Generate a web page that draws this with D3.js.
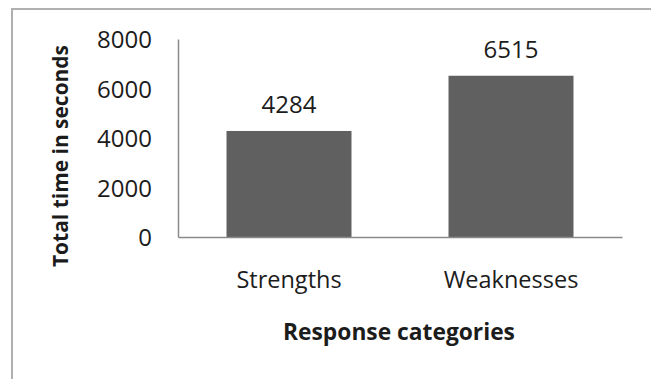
<!DOCTYPE html>
<html>
<head>
<meta charset="utf-8">
<script src="https://cdnjs.cloudflare.com/ajax/libs/d3/7.8.5/d3.min.js"></script>
<style>
  body { margin: 0; background: #fff; }
  svg { display: block; }
</style>
</head>
<body>
<svg id="grafico" width="651" height="379"></svg>
<script>
const categorias = ['Strengths', 'Weaknesses'];
const valores = [4284, 6515];
const ticksY = [0, 2000, 4000, 6000, 8000];

const fuente = "'Open Sans', 'Noto Sans', sans-serif";
const colorBarra = '#5f605f';
const colorEje = '#8a8a8a';
const colorTexto = '#1c1c1c';

let svg = d3.select('#grafico');

// marco gris (solo se ven arriba y a la izquierda)
svg.append('rect')
    .attr('x', 12).attr('y', 9)
    .attr('width', 700).attr('height', 420)
    .attr('fill', 'none')
    .attr('stroke', '#b0b0b0')
    .attr('stroke-width', 2);

const izq = 178, der = 622, arriba = 39, abajo = 237;

let escalaX = d3.scaleBand().domain(categorias).range([izq, der])
    .paddingInner(0.437).paddingOuter(0.2185);
let escalaY = d3.scaleLinear().domain([0, 8000]).range([abajo, arriba]);

// ajusta el tamaño de letra para que el texto mida lo que mide en la imagen
function ajustar(sel, ancho) {
    const largo = sel.node().getComputedTextLength();
    const fs = parseFloat(sel.style('font-size'));
    sel.style('font-size', (fs * ancho / largo).toFixed(2) + 'px');
}

// barras
svg.append('g').attr('id', 'barras')
    .selectAll('rect')
    .data(valores).enter()
    .append('rect')
    .attr('x', (d, i) => escalaX(categorias[i]))
    .attr('y', d => escalaY(d))
    .attr('width', escalaX.bandwidth())
    .attr('height', d => escalaY(0) - escalaY(d))
    .attr('fill', colorBarra);

// eje Y
let ejeY = svg.append('g')
    .attr('transform', 'translate(' + izq + ',0)')
    .call(d3.axisLeft(escalaY).tickValues(ticksY).tickFormat(d3.format('d'))
        .tickSize(0).tickPadding(26));
ejeY.select('.domain').attr('stroke', colorEje).attr('stroke-width', 1.5);
ejeY.selectAll('text')
    .attr('dy', '0.36em')
    .style('font-family', fuente)
    .style('font-size', '24px')
    .attr('fill', colorTexto);

// eje X
let ejeX = svg.append('g')
    .attr('transform', 'translate(0,' + abajo + ')')
    .call(d3.axisBottom(escalaX).tickSize(0));
ejeX.select('.domain').attr('stroke', colorEje).attr('stroke-width', 1.5);
ejeX.selectAll('text')
    .attr('y', 51)
    .attr('dy', null)
    .style('font-family', fuente)
    .style('font-size', '23.5px')
    .attr('fill', colorTexto);

// etiquetas de valor
svg.append('g').attr('id', 'etiquetas')
    .selectAll('text')
    .data(valores).enter()
    .append('text')
    .attr('x', (d, i) => escalaX(categorias[i]) + escalaX.bandwidth() / 2)
    .attr('y', d => escalaY(d) - 18)
    .attr('text-anchor', 'middle')
    .style('font-family', fuente)
    .style('font-size', '24px')
    .attr('fill', colorTexto)
    .text(d => d);

// títulos
let tituloX = svg.append('text')
    .attr('x', 399).attr('y', 340)
    .attr('text-anchor', 'middle')
    .style('font-family', fuente)
    .style('font-weight', 'bold')
    .style('font-size', '21px')
    .attr('fill', colorTexto)
    .text('Response categories');
ajustar(tituloX, 232);

let tituloY = svg.append('text')
    .attr('transform', 'translate(68,156) rotate(-90)')
    .attr('text-anchor', 'middle')
    .style('font-family', fuente)
    .style('font-weight', 'bold')
    .style('font-size', '21px')
    .attr('fill', colorTexto)
    .text('Total time in seconds');
ajustar(tituloY, 222);
</script>
</body>
</html>
